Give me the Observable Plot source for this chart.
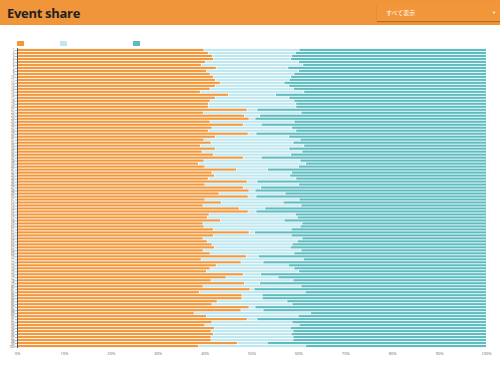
<!DOCTYPE html>
<html>
<head>
<meta charset="utf-8">
<script src="https://cdn.jsdelivr.net/npm/d3@7"></script>
<script src="https://cdn.jsdelivr.net/npm/@observablehq/plot@0.6"></script>
<style>
  html, body { margin: 0; padding: 0; background: #fff; width: 500px; height: 380px; overflow: hidden; font-family: "Open Sans", "Noto Sans", sans-serif; }
  #header { position: absolute; left: 0; top: 0; width: 500px; height: 25px; background: #F0953A; }
  #title { position: absolute; left: 7px; top: 4px; font-size: 13px; font-weight: 700; color: #222; letter-spacing: -0.3px; font-family: "Open Sans", sans-serif; }
  #dropdown { position: absolute; left: 377px; top: 4px; width: 123px; height: 17px; background: #F19639; box-shadow: 0 1px 1px rgba(120,60,0,0.45); }
  #dropdown span.t { position: absolute; left: 9px; top: 4px; font-size: 6px; color: #fff; font-family: "Noto Sans CJK JP", sans-serif; }
  #dropdown span.c { position: absolute; right: 4px; top: 6px; font-size: 4px; color: #fff; }
  #legend { position: absolute; left: 17px; top: 41px; height: 6px; font-size: 5px; }
  .li { position: absolute; top: 0; white-space: nowrap; }
  .sw { display: inline-block; width: 7px; height: 5px; vertical-align: top; }
  .lt { color: #fff; margin-left: 2px; line-height: 5px; vertical-align: top; }
  #chart { position: absolute; left: 0; top: 47px; }
</style>
</head>
<body>
<div id="header">
  <div id="title">Event share</div>
  <div id="dropdown"><span class="t">すべて表示</span><span class="c">▼</span></div>
</div>
<div id="legend"></div>
<div id="chart"></div>
<script>
const seriesNames = ["Views", "Partial views", "Completions"];
const seriesColors = ["#F2973A", "#BEE7EF", "#5DBCC0"];

const categories = ["1","2","3","4","5","6","7","8","9","10","11","12","13","14","15","16","17","18","19","20",
"21","22","23","24","25","26","27","28","29","30","31","32","33","34","35","36","37","38","39","40",
"41","42","43","44","45","46","47","48","49","50","51","52","53","54","55","56","57","58","59","60",
"61","62","63","64","65","66","67","68","69","70","71","72","73","74","75","76","77","78","79","80",
"81","82","83","84","85","86","87","88","89","90","91","92","93","94","95","96","97","98","99","100"];

const views = [39.8,40.7,41.6,41.8,40.1,39.2,42.4,40.3,41.1,41.8,42.2,43.3,42.2,41.1,39.0,45.0,42.2,41.1,40.7,40.7,
49.0,39.7,48.4,49.4,41.1,48.2,41.5,40.7,49.2,42.2,39.8,41.3,39.0,42.2,39.4,41.8,48.2,39.8,38.6,40.0,
46.7,41.5,42.0,40.7,49.0,40.0,48.2,49.4,43.0,49.2,40.0,43.5,39.6,47.3,49.2,40.9,40.5,43.3,39.6,39.8,
41.8,49.4,41.8,39.6,40.5,41.5,42.0,39.6,41.1,48.8,39.2,47.7,42.4,41.1,40.3,48.2,44.5,41.3,48.4,39.6,
49.6,38.8,47.9,47.9,42.6,41.5,49.4,47.7,37.7,40.3,49.0,41.5,40.0,42.0,41.3,41.8,41.3,41.3,46.9,38.6];

const partial = [20.3,18.6,16.9,16.5,19.9,21.7,15.3,19.7,17.9,16.5,15.8,13.6,15.7,17.8,22.1,10.1,15.7,17.9,18.7,18.7,
2.1,20.8,3.3,1.3,17.9,3.8,17.0,18.7,1.7,15.7,20.5,17.5,22.1,15.7,21.3,16.5,3.8,20.5,22.9,20.0,
6.7,17.0,16.1,18.7,2.1,20.0,3.7,1.3,14.1,1.7,20.1,13.2,20.9,5.5,1.7,18.4,19.2,13.6,21.1,20.5,
16.6,1.2,16.6,21.1,19.2,17.1,16.2,20.9,17.9,2.6,21.8,4.7,15.4,17.9,19.7,3.7,11.1,17.5,3.3,20.9,
0.9,22.6,4.3,4.3,14.9,17.1,1.3,4.7,24.8,19.6,2.1,17.1,20.1,16.2,17.5,16.6,17.5,17.5,6.4,22.9];

const completions = [39.9,40.7,41.5,41.7,40.0,39.1,42.3,40.0,41.0,41.7,42.0,43.1,42.1,41.1,38.9,44.9,42.1,41.0,40.6,40.6,
48.9,39.5,48.3,49.3,41.0,48.0,41.5,40.6,49.1,42.1,39.7,41.2,38.9,42.1,39.3,41.7,48.0,39.7,38.5,40.0,
46.6,41.5,41.9,40.6,48.9,40.0,48.1,49.3,42.9,49.1,39.9,43.3,39.5,47.2,49.1,40.7,40.3,43.1,39.3,39.7,
41.6,49.4,41.6,39.3,40.3,41.4,41.8,39.5,41.0,48.6,39.0,47.6,42.2,41.0,40.0,48.1,44.4,41.2,48.3,39.5,
49.5,38.6,47.8,47.8,42.5,41.4,49.3,47.6,37.5,40.1,48.9,41.4,39.9,41.8,41.2,41.6,41.2,41.2,46.7,38.5];

const xTicks = [0,0.1,0.2,0.3,0.4,0.5,0.6,0.7,0.8,0.9,1];

// legend
const legend = document.getElementById("legend");
const legendOffsets = [0, 43, 116];
seriesNames.forEach((n, i) => {
  const d = document.createElement("div");
  d.className = "li";
  d.style.left = legendOffsets[i] + "px";
  d.innerHTML = `<span class="sw" style="background:${seriesColors[i]}"></span><span class="lt">${n}</span>`;
  legend.appendChild(d);
});

const series = [views, partial, completions];
const rows = categories.flatMap((c, i) => seriesNames.map((s, k) => ({cat: c, key: s, v: series[k][i]})));

const chart = Plot.plot({
  width: 500,
  height: 312,
  marginLeft: 17,
  marginRight: 14,
  marginTop: 1,
  marginBottom: 11,
  style: {fontFamily: "Open Sans, sans-serif", background: "transparent"},
  x: {domain: [0, 1], label: null},
  y: {domain: categories, padding: 0.3, label: null},
  color: {domain: seriesNames, range: seriesColors},
  marks: [
    Plot.barX(rows, Plot.stackX({offset: "normalize", x: "v", y: "cat", fill: "key", insetLeft: 0.6})),
    Plot.axisY({tickSize: 2, tickPadding: 1, fontSize: 3, fill: "#444", stroke: "#888", strokeWidth: 0.6}),
    Plot.axisX({ticks: xTicks, tickFormat: d3.format(".0%"), tickSize: 0, tickPadding: 4, fontSize: 4, fill: "#666"}),
    Plot.ruleX([0], {stroke: "#555", strokeWidth: 1})
  ]
});
document.getElementById("chart").appendChild(chart);
</script>
</body>
</html>
